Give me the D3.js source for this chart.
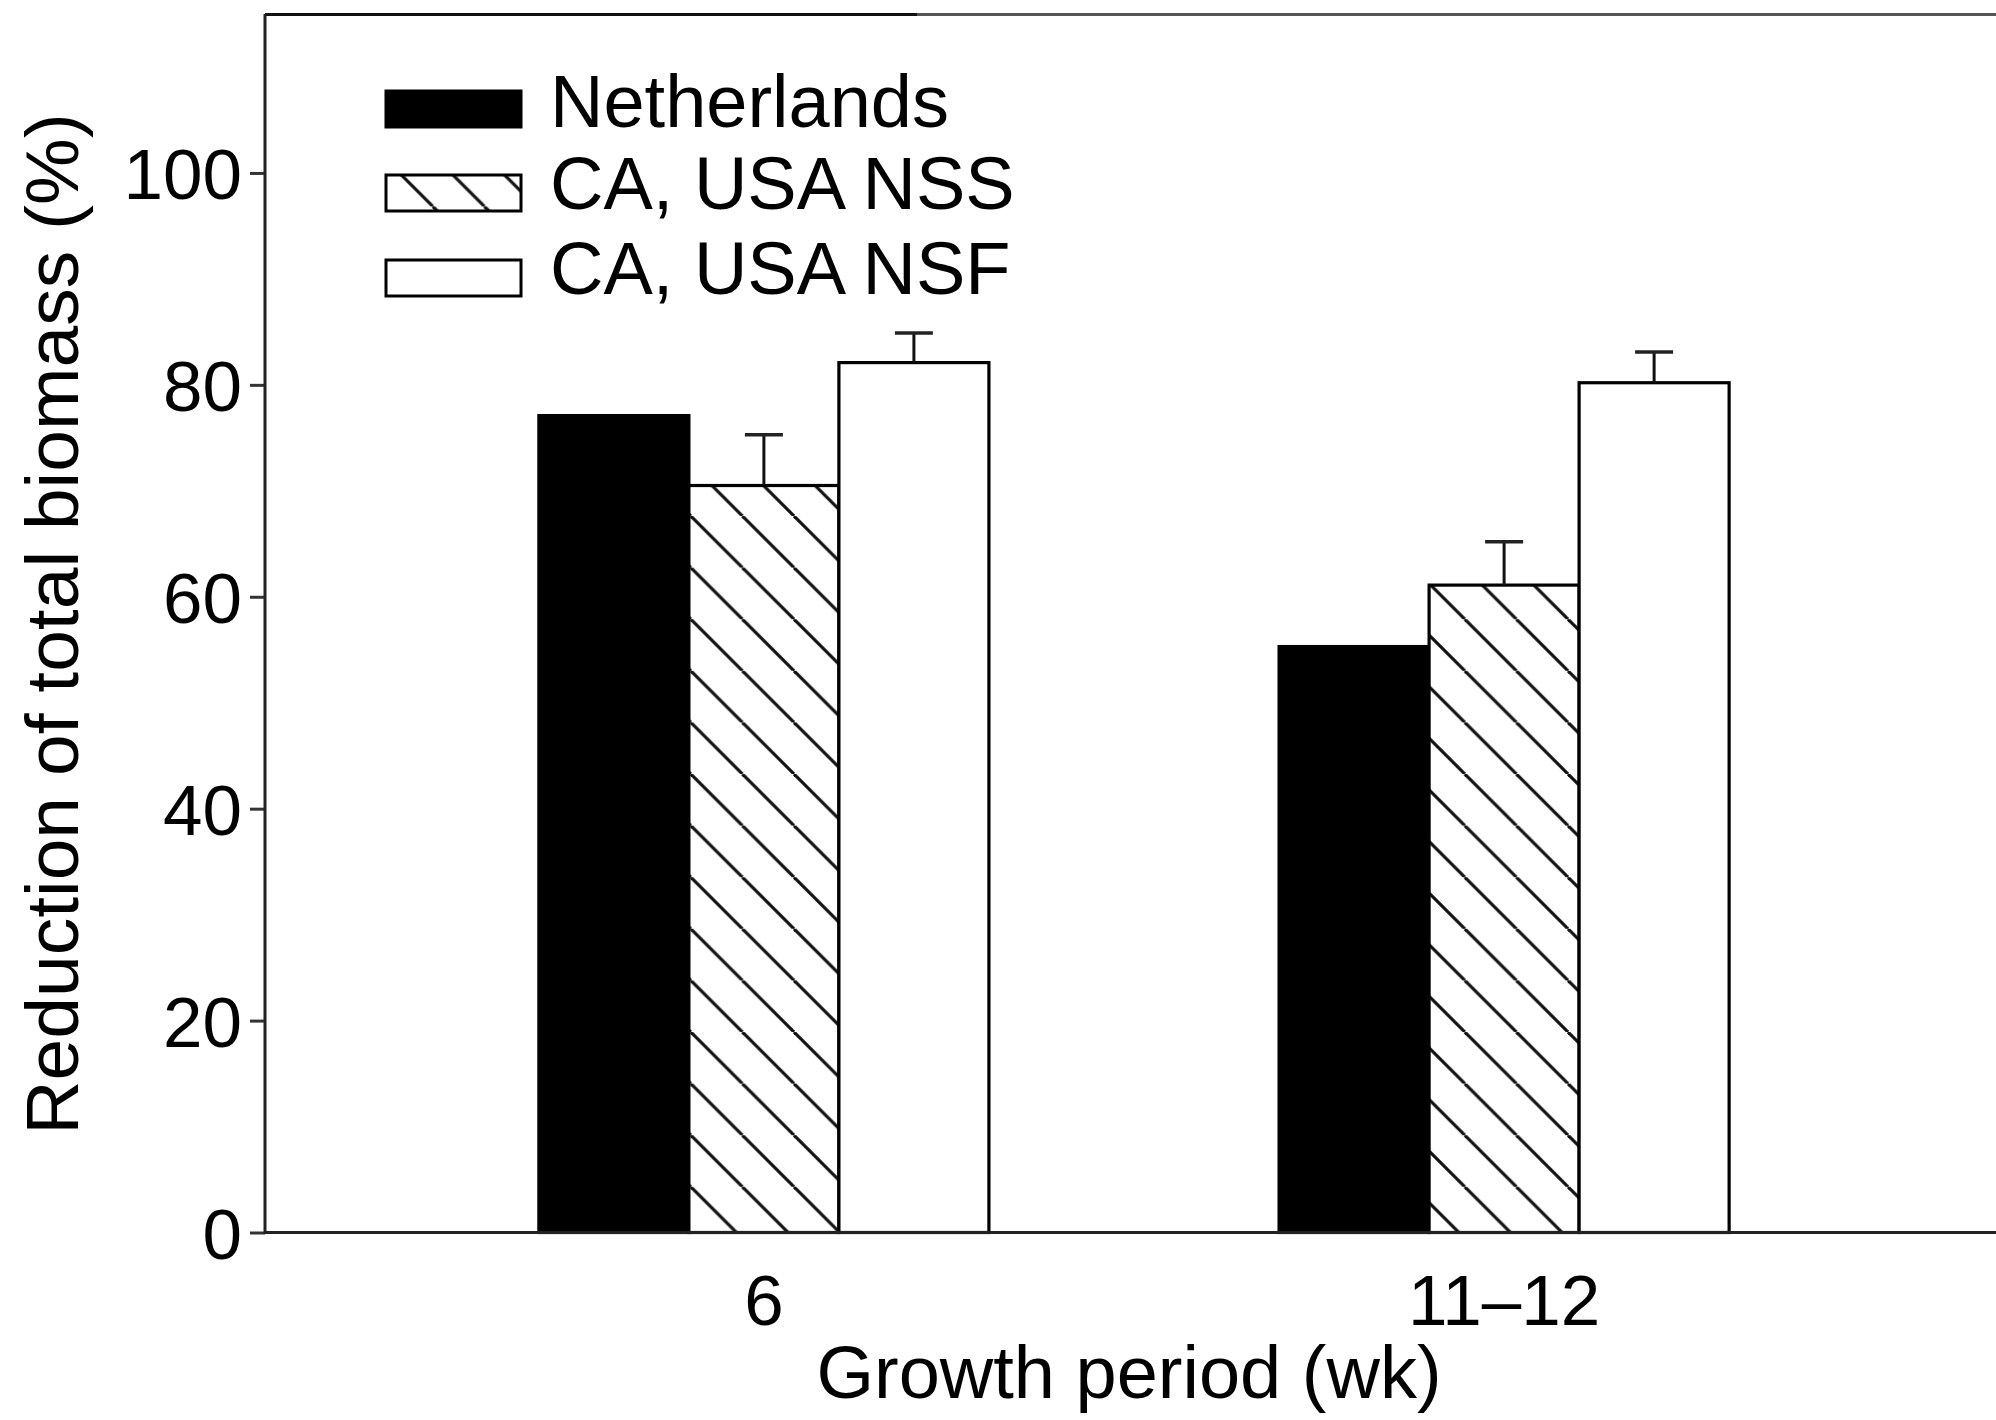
<!DOCTYPE html>
<html>
<head>
<meta charset="utf-8">
<script src="https://cdn.jsdelivr.net/npm/d3@7"></script>
<style>
  html, body { margin: 0; padding: 0; background: #fff; }
  svg { display: block; }
  text { font-family: "Liberation Sans", Arial, Helvetica, sans-serif; fill: #000; }
</style>
</head>
<body>
<script>
// ---- data ----
const periods = ["6", "11–12"];
const seriesNames = ["Netherlands", "CA, USA NSS", "CA, USA NSF"];
const netherlands = [77.1, 55.3];
const nss = [70.5, 61.1];
const nsf = [82.1, 80.2];
const netherlandsErr = [null, null];
const nssErr = [4.8, 4.1];
const nsfErr = [2.8, 2.9];
const yTicks = [0, 20, 40, 60, 80, 100];
const xTitle = "Growth period (wk)";
const yTitle = "Reduction of total biomass (%)";

(function () {
const W = 1996, H = 1420;
const FONT = 71;
const FONT_T = 74;

const svg = d3.select("body").append("svg").attr("width", W).attr("height", H);

const defs = svg.append("defs");
const P = 51.6;
const pat = defs.append("pattern")
  .attr("id", "hatch")
  .attr("patternUnits", "userSpaceOnUse")
  .attr("width", P).attr("height", P)
  .attr("patternTransform", "translate(20,0)");
pat.append("rect").attr("width", P).attr("height", P).attr("fill", "#fff");
[-P, 0, P].forEach(o => {
  pat.append("line").attr("x1", o).attr("y1", 0).attr("x2", o + P).attr("y2", P)
    .attr("stroke", "#111").attr("stroke-width", 3.2);
});

const mLeft = 265, mTop = 14, mBottom = 1232.5, mRight = W;

const y = d3.scaleLinear().domain([0, 115]).range([mBottom, mTop]);
const x0 = d3.scaleBand().domain(periods).range([mLeft, 2003]).paddingInner(0.392).paddingOuter(0.37);
const x1 = d3.scaleBand().domain(seriesNames).range([0, x0.bandwidth()]).padding(0);

const fills = { "Netherlands": "#000", "CA, USA NSS": "url(#hatch)", "CA, USA NSF": "#fff" };
const valuesBy = { "Netherlands": netherlands, "CA, USA NSS": nss, "CA, USA NSF": nsf };
const errBy = { "Netherlands": netherlandsErr, "CA, USA NSS": nssErr, "CA, USA NSF": nsfErr };

const rows = [];
periods.forEach((p, i) => {
  seriesNames.forEach(s => {
    rows.push({ period: p, series: s, value: valuesBy[s][i], err: errBy[s][i] });
  });
});

// bars
const g = svg.append("g");
g.selectAll("rect.bar").data(rows).join("rect")
  .attr("class", "bar")
  .attr("x", d => x0(d.period) + x1(d.series))
  .attr("y", d => y(d.value))
  .attr("width", x1.bandwidth())
  .attr("height", d => y(0) - y(d.value))
  .attr("fill", d => fills[d.series])
  .attr("stroke", "#000")
  .attr("stroke-width", 3.2);

// error bars
const eb = rows.filter(d => d.err != null);
const capW = 38;
const cx = d => x0(d.period) + x1(d.series) + x1.bandwidth() / 2;
g.selectAll("line.err").data(eb).join("line")
  .attr("class", "err")
  .attr("x1", cx).attr("x2", cx)
  .attr("y1", d => y(d.value))
  .attr("y2", d => y(d.value + d.err))
  .attr("stroke", "#111").attr("stroke-width", 3);
g.selectAll("line.cap").data(eb).join("line")
  .attr("class", "cap")
  .attr("x1", d => cx(d) - capW / 2)
  .attr("x2", d => cx(d) + capW / 2)
  .attr("y1", d => y(d.value + d.err))
  .attr("y2", d => y(d.value + d.err))
  .attr("stroke", "#222").attr("stroke-width", 3.5);

// top frame line
svg.append("line").attr("x1", mLeft).attr("x2", 917).attr("y1", 14.5).attr("y2", 14.5)
  .attr("stroke", "#111").attr("stroke-width", 3);
svg.append("line").attr("x1", 917).attr("x2", mRight).attr("y1", 14.5).attr("y2", 14.5)
  .attr("stroke", "#555").attr("stroke-width", 3);

// y axis
const yAxis = d3.axisLeft(y).tickValues(yTicks).tickSize(15).tickPadding(8).tickFormat(d3.format("d"));
const ya = svg.append("g").attr("transform", `translate(${mLeft},0)`).call(yAxis);
ya.select(".domain").remove();
ya.selectAll(".tick line").attr("stroke", "#333").attr("stroke-width", 3);
ya.selectAll(".tick text").attr("font-size", FONT).attr("dy", "0.36em")
  .style("font-family", '"Liberation Sans", Arial, sans-serif').attr("fill", "#000");
svg.append("line").attr("x1", mLeft).attr("x2", mLeft).attr("y1", mTop).attr("y2", mBottom + 1.5)
  .attr("stroke", "#222").attr("stroke-width", 3);

// x axis
const xAxis = d3.axisBottom(x0).tickSize(0).tickPadding(0);
const xa = svg.append("g").attr("transform", `translate(0,${mBottom})`).call(xAxis);
xa.select(".domain").remove();
xa.selectAll(".tick text").attr("font-size", FONT).attr("dy", null).attr("y", 92)
  .style("font-family", '"Liberation Sans", Arial, sans-serif').attr("fill", "#000");
svg.append("line").attr("x1", mLeft).attr("x2", mRight).attr("y1", mBottom).attr("y2", mBottom)
  .attr("stroke", "#222").attr("stroke-width", 3);

// axis titles
svg.append("text").attr("x", 1129).attr("y", 1398)
  .attr("text-anchor", "middle").attr("font-size", FONT_T).text(xTitle);
svg.append("text").attr("transform", "translate(78,624) rotate(-90)")
  .attr("text-anchor", "middle").attr("font-size", 75).text(yTitle);

// legend
const legY = [91, 175, 260];
const legTextY = [127, 209, 294];
const lg = svg.append("g");
seriesNames.forEach((s, i) => {
  lg.append("rect").attr("x", 386).attr("y", legY[i]).attr("width", 135).attr("height", 36)
    .attr("fill", fills[s]).attr("stroke", "#000").attr("stroke-width", 3);
  lg.append("text").attr("x", 550).attr("y", legTextY[i]).attr("font-size", FONT_T).text(s);
});
})();
</script>
</body>
</html>
